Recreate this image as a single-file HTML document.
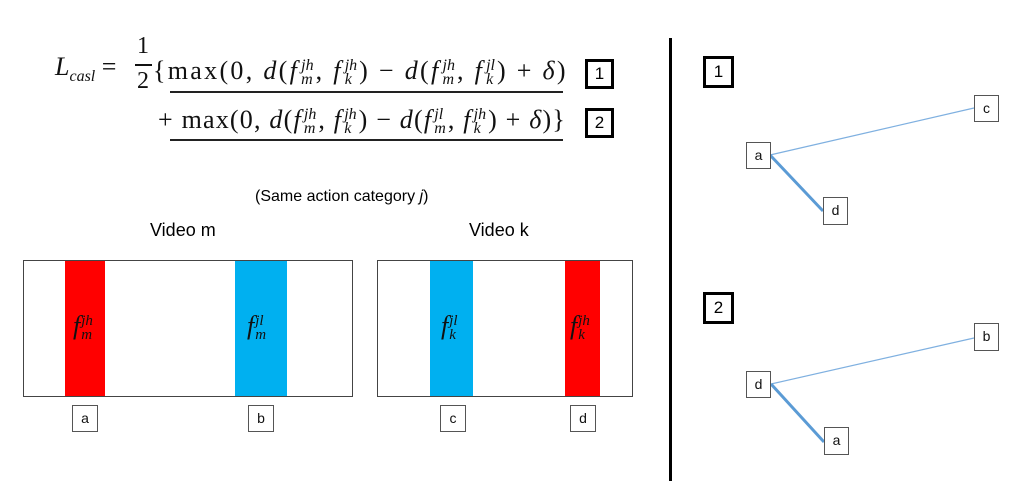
<!DOCTYPE html>
<html><head><meta charset="utf-8"><style>
body{margin:0;width:1024px;height:500px;background:#fff;position:relative;overflow:hidden;font-family:"Liberation Sans",sans-serif}
.a{position:absolute}
.eq{position:absolute;font-family:"Liberation Serif",serif;font-size:26px;letter-spacing:1.8px;white-space:nowrap;color:#111}
.eq i{font-style:italic}
.ss{display:inline-block;vertical-align:middle;line-height:14px;font-size:16px;font-style:italic;margin:0 2px 0 2px;letter-spacing:0}
.ss span{display:block}
.nb{position:absolute;border:1.5px solid #555;background:#fff;font-size:14px;text-align:center;box-sizing:border-box;color:#111}
.bb{position:absolute;border:3px solid #000;font-size:17px;text-align:center;box-sizing:border-box;background:#fff}
.lab{position:absolute;font-family:"Liberation Serif",serif;font-style:italic;font-size:26px;white-space:nowrap;color:#111}
.lab .ss{font-size:15px;line-height:14px;margin-left:1px}
</style></head><body>
<div class="eq" style="left:55px;top:52px;letter-spacing:0"><i>L</i><span style="font-size:16px;font-style:italic;position:relative;top:6px">casl</span> =</div>
<div class="eq" style="left:137px;top:33px;font-size:24px">1</div>
<div class="a" style="left:135px;top:64px;width:17px;height:1.5px;background:#111"></div>
<div class="eq" style="left:137px;top:68px;font-size:24px">2</div>
<div class="eq" style="left:153px;top:56px;letter-spacing:2.3px">{max(0, <i>d</i>(<i>f</i><span class="ss"><span>jh</span><span>m</span></span>, <i>f</i><span class="ss"><span>jh</span><span>k</span></span>) − <i>d</i>(<i>f</i><span class="ss"><span>jh</span><span>m</span></span>, <i>f</i><span class="ss"><span>jl</span><span>k</span></span>) + <i>δ</i>)</div>
<div class="eq" style="left:158px;top:105px;letter-spacing:1.2px">+ max(0, <i>d</i>(<i>f</i><span class="ss"><span>jh</span><span>m</span></span>, <i>f</i><span class="ss"><span>jh</span><span>k</span></span>) − <i>d</i>(<i>f</i><span class="ss"><span>jl</span><span>m</span></span>, <i>f</i><span class="ss"><span>jh</span><span>k</span></span>) + <i>δ</i>)}</div>
<div class="a" style="left:170px;top:91px;width:393px;height:2px;background:#222"></div>
<div class="a" style="left:170px;top:139px;width:393px;height:2px;background:#222"></div>
<div class="bb" style="left:585px;top:59px;width:29px;height:30px;line-height:24px">1</div>
<div class="bb" style="left:585px;top:108px;width:29px;height:30px;line-height:24px">2</div>

<div class="a" style="left:255px;top:188px;font-size:16px">(Same action category <i>j</i>)</div>
<div class="a" style="left:150px;top:220px;font-size:18px">Video m</div>
<div class="a" style="left:469px;top:220px;font-size:18px">Video k</div>

<div class="a" style="left:23px;top:260px;width:330px;height:137px;border:1px solid #444;box-sizing:border-box"></div>
<div class="a" style="left:65px;top:261px;width:40px;height:135px;background:#ff0000"></div>
<div class="a" style="left:235px;top:261px;width:52px;height:135px;background:#00b0f0"></div>
<div class="a" style="left:377px;top:260px;width:256px;height:137px;border:1px solid #444;box-sizing:border-box"></div>
<div class="a" style="left:430px;top:261px;width:43px;height:135px;background:#00b0f0"></div>
<div class="a" style="left:565px;top:261px;width:35px;height:135px;background:#ff0000"></div>
<div class="lab" style="left:73px;top:311px">f<span class="ss"><span>jh</span><span>m</span></span></div>
<div class="lab" style="left:247px;top:311px">f<span class="ss"><span>jl</span><span>m</span></span></div>
<div class="lab" style="left:441px;top:311px">f<span class="ss"><span>jl</span><span>k</span></span></div>
<div class="lab" style="left:570px;top:311px">f<span class="ss"><span>jh</span><span>k</span></span></div>

<div class="nb" style="left:72px;top:405px;width:26px;height:27px;line-height:24px">a</div>
<div class="nb" style="left:248px;top:405px;width:26px;height:27px;line-height:24px">b</div>
<div class="nb" style="left:440px;top:405px;width:26px;height:27px;line-height:24px">c</div>
<div class="nb" style="left:570px;top:405px;width:26px;height:27px;line-height:24px">d</div>

<div class="a" style="left:669px;top:38px;width:3px;height:443px;background:#000"></div>

<svg class="a" style="left:0;top:0" width="1024" height="500">
<line x1="770" y1="155" x2="974" y2="108" stroke="#7fb0e0" stroke-width="1.2"/>
<line x1="770" y1="155" x2="823" y2="211" stroke="#5b9bd5" stroke-width="3"/>
<line x1="771" y1="384" x2="974" y2="338" stroke="#7fb0e0" stroke-width="1.2"/>
<line x1="771" y1="384" x2="824" y2="442" stroke="#5b9bd5" stroke-width="3"/>
</svg>
<div class="bb" style="left:703px;top:56px;width:31px;height:32px;line-height:26px">1</div>
<div class="bb" style="left:703px;top:292px;width:31px;height:32px;line-height:26px">2</div>
<div class="nb" style="left:746px;top:142px;width:25px;height:27px;line-height:24px">a</div>
<div class="nb" style="left:974px;top:95px;width:25px;height:27px;line-height:24px">c</div>
<div class="nb" style="left:823px;top:197px;width:25px;height:28px;line-height:25px">d</div>
<div class="nb" style="left:746px;top:371px;width:25px;height:27px;line-height:24px">d</div>
<div class="nb" style="left:974px;top:323px;width:25px;height:28px;line-height:25px">b</div>
<div class="nb" style="left:824px;top:427px;width:25px;height:28px;line-height:25px">a</div>
</body></html>
